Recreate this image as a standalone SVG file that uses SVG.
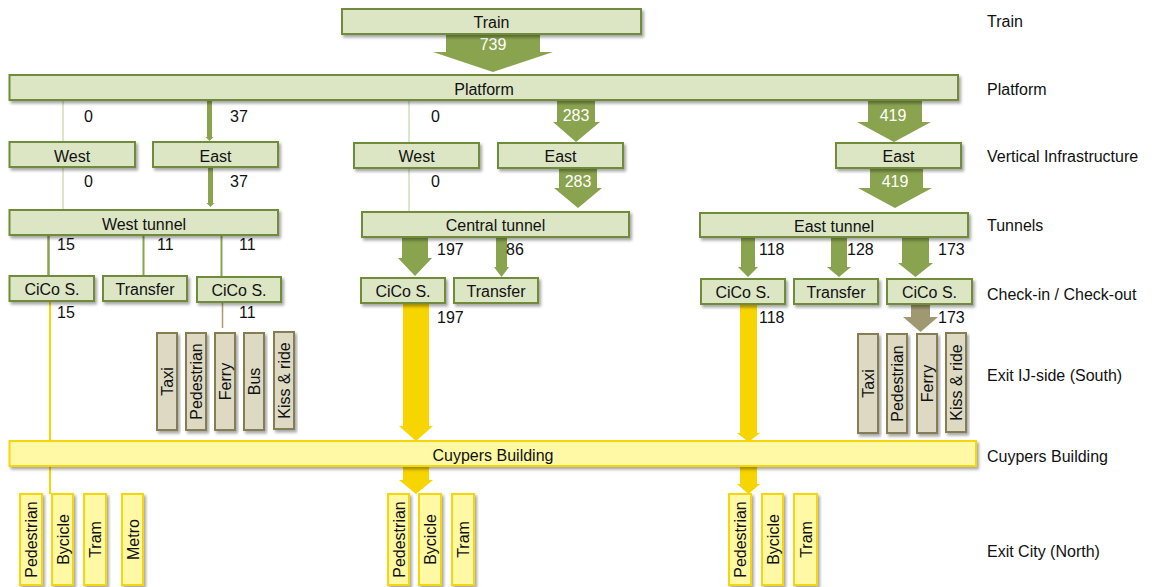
<svg xmlns="http://www.w3.org/2000/svg" width="1157" height="587" viewBox="0 0 1157 587">
<defs>
<filter id="sh" x="-10%" y="-20%" width="130%" height="160%">
<feDropShadow dx="2" dy="2.5" stdDeviation="1.5" flood-color="#000" flood-opacity="0.35"/>
</filter>
<style>
text{font-family:"Liberation Sans",Arial,sans-serif;font-size:16px;fill:#111;}
.g{fill:#DCE6C4;stroke:#6F8C3A;stroke-width:2;filter:url(#sh);}
.y{fill:#FFF9A6;stroke:#F5D60F;stroke-width:2;filter:url(#sh);}
.b{fill:#DDD9C3;stroke:#857D52;stroke-width:2;filter:url(#sh);}
.c{text-anchor:middle;}
.w{fill:#fff;text-anchor:middle;}
.ag{fill:#8AA34F;}
.ay{fill:#F7D500;}
.ab{fill:#A09870;}
.thin{stroke:#B9CC90;stroke-width:1;fill:none;}
.gl{stroke:#8AA34F;stroke-width:2;fill:none;}
.yl{stroke:#F7D500;stroke-width:2;fill:none;}
.bl{stroke:#A59D70;stroke-width:1.5;fill:none;}
</style>
</defs>
<rect width="1157" height="587" fill="#fff"/>

<g id="connectors">
<polygon class="ag" points="446,34 540,34 540,52 553,52 493,72 433,52 446,52"/>
<line class="thin" x1="63" y1="100" x2="63" y2="142"/>
<polygon class="ag" points="207,100 212,100 212,137 213.5,137 209.5,141 205.5,137 207,137"/>
<line class="thin" x1="409" y1="100" x2="409" y2="143"/>
<polygon class="ag" points="557,100 595,100 595,122 600,122 576,142 553,122 557,122"/>
<polygon class="ag" points="868,100 922,100 922,122 931,122 894,142 857,122 868,122"/>
<line class="thin" x1="63" y1="167" x2="63" y2="210"/>
<polygon class="ag" points="208,167 213,167 213,203 214.5,203 210.5,207 206.5,203 208,203"/>
<line class="thin" x1="409" y1="168" x2="409" y2="212"/>
<polygon class="ag" points="559,168 597,168 597,188 602,188 578,208 554,188 559,188"/>
<polygon class="ag" points="870,168 923,168 923,188 932,188 895,208 858,188 870,188"/>
<line class="gl" x1="48.5" y1="235" x2="48.5" y2="276" style="stroke-width:2.5"/>
<line class="gl" x1="143.5" y1="235" x2="143.5" y2="276"/>
<line class="gl" x1="221.5" y1="235" x2="221.5" y2="277"/>
<polygon class="ag" points="402,237 428,237 428,258 432,258 415,276 398,258 402,258"/>
<polygon class="ag" points="496,237 507,237 507,267 509,267 501.5,277 494,267 496,267"/>
<polygon class="ag" points="741,237 755,237 755,267 758,267 748,277 738,267 741,267"/>
<polygon class="ag" points="831,237 847,237 847,267 851,267 839,277 827,267 831,267"/>
<polygon class="ag" points="902,237 929,237 929,263 933,263 915.5,277 898,263 902,263"/>
<line class="yl" x1="50" y1="301" x2="50" y2="441"/>
<line class="bl" x1="222.5" y1="302" x2="222.5" y2="328"/>
<polygon class="ay" points="403,303 429,303 429,426 433,426 416,441 399,426 403,426"/>
<polygon class="ay" points="740,304 757,304 757,433 760,433 748.5,442 737,433 740,433"/>
<polygon class="ab" points="911,304 930,304 930,317 938,317 920.5,332 903,317 911,317"/>
<line class="yl" x1="50" y1="466" x2="50" y2="494"/>
<polygon class="ay" points="403,466 429,466 429,480 433,480 416,494 399,480 403,480"/>
<polygon class="ay" points="740,466 757,466 757,484 760,484 748.5,494 737,484 740,484"/>
</g>

<g id="flow-labels">
<text class="w" x="493" y="50">739</text>
<text x="84" y="122">0</text>
<text x="230" y="122">37</text>
<text x="431" y="122">0</text>
<text class="w" x="576" y="121">283</text>
<text class="w" x="893" y="121">419</text>
<text x="84" y="187">0</text>
<text x="230" y="187">37</text>
<text x="431" y="187">0</text>
<text class="w" x="578" y="187">283</text>
<text class="w" x="895" y="187">419</text>
<text x="57" y="250">15</text>
<text x="157" y="250">11</text>
<text x="239" y="250">11</text>
<text x="437" y="255">197</text>
<text x="506" y="255">86</text>
<text x="759" y="255">118</text>
<text x="847" y="255">128</text>
<text x="938" y="255">173</text>
<text x="57" y="318">15</text>
<text x="239" y="318">11</text>
<text x="437" y="323">197</text>
<text x="759" y="323">118</text>
<text x="938" y="323">173</text>
</g>

<g id="train"><rect class="g" x="342" y="9" width="299" height="25"/><text class="c" x="491.5" y="28">Train</text></g>
<g id="platform"><rect class="g" x="9.5" y="75" width="948.5" height="25"/><text class="c" x="484" y="94.5">Platform</text></g>

<g id="west-left"><rect class="g" x="9.5" y="142" width="125.5" height="25"/><text class="c" x="72" y="161.5">West</text></g>
<g id="east-left"><rect class="g" x="153" y="142" width="125" height="25"/><text class="c" x="215.5" y="161.5">East</text></g>
<g id="west-central"><rect class="g" x="354" y="143" width="125" height="25"/><text class="c" x="416.5" y="162">West</text></g>
<g id="east-central"><rect class="g" x="498" y="143" width="125" height="25"/><text class="c" x="560.5" y="162">East</text></g>
<g id="east-right"><rect class="g" x="836" y="143" width="125" height="25"/><text class="c" x="898.5" y="162">East</text></g>

<g id="west-tunnel"><rect class="g" x="9.5" y="210" width="268.5" height="25"/><text class="c" x="144" y="229.5">West tunnel</text></g>
<g id="central-tunnel"><rect class="g" x="362" y="212" width="267" height="25"/><text class="c" x="495.5" y="231">Central tunnel</text></g>
<g id="east-tunnel"><rect class="g" x="700" y="213" width="268" height="24"/><text class="c" x="834" y="231.5">East tunnel</text></g>

<g id="cico-w1"><rect class="g" x="9.5" y="276" width="84.5" height="25"/><text class="c" x="52" y="295">CiCo S.</text></g>
<g id="transfer-w"><rect class="g" x="103" y="276" width="84" height="25"/><text class="c" x="145" y="295">Transfer</text></g>
<g id="cico-w2"><rect class="g" x="197" y="277" width="84" height="25"/><text class="c" x="239" y="296">CiCo S.</text></g>
<g id="cico-c"><rect class="g" x="361" y="278" width="84" height="25"/><text class="c" x="403" y="297">CiCo S.</text></g>
<g id="transfer-c"><rect class="g" x="454" y="278" width="84" height="25"/><text class="c" x="496" y="297">Transfer</text></g>
<g id="cico-e1"><rect class="g" x="701" y="279" width="84" height="25"/><text class="c" x="743" y="298">CiCo S.</text></g>
<g id="transfer-e"><rect class="g" x="794" y="279" width="84" height="25"/><text class="c" x="836" y="298">Transfer</text></g>
<g id="cico-e2"><rect class="g" x="887" y="279" width="85" height="25"/><text class="c" x="929.5" y="298">CiCo S.</text></g>

<g id="south-w-taxi"><rect class="b" x="157" y="333" width="20" height="97"/><text class="c" transform="translate(173,381.5) rotate(-90)">Taxi</text></g>
<g id="south-w-ped"><rect class="b" x="186" y="333" width="20" height="97"/><text class="c" transform="translate(202,381.5) rotate(-90)">Pedestrian</text></g>
<g id="south-w-ferry"><rect class="b" x="215" y="333" width="20" height="97"/><text class="c" transform="translate(231,381.5) rotate(-90)">Ferry</text></g>
<g id="south-w-bus"><rect class="b" x="244" y="333" width="20" height="97"/><text class="c" transform="translate(260,381.5) rotate(-90)">Bus</text></g>
<g id="south-w-kiss"><rect class="b" x="274" y="332" width="20" height="97"/><text class="c" transform="translate(290,380.5) rotate(-90)">Kiss &amp; ride</text></g>

<g id="south-e-taxi"><rect class="b" x="858" y="334" width="20" height="99"/><text class="c" transform="translate(874,383.5) rotate(-90)">Taxi</text></g>
<g id="south-e-ped"><rect class="b" x="887" y="334" width="20" height="99"/><text class="c" transform="translate(903,383.5) rotate(-90)">Pedestrian</text></g>
<g id="south-e-ferry"><rect class="b" x="917" y="334" width="20" height="99"/><text class="c" transform="translate(933,383.5) rotate(-90)">Ferry</text></g>
<g id="south-e-kiss"><rect class="b" x="946" y="333" width="20" height="99"/><text class="c" transform="translate(962,382.5) rotate(-90)">Kiss &amp; ride</text></g>

<g id="cuypers"><rect class="y" x="9.5" y="441" width="966.5" height="25"/><text class="c" x="493" y="460.5">Cuypers Building</text></g>

<g id="north-w-ped"><rect class="y" x="20" y="494" width="22" height="91"/><text class="c" transform="translate(37,539.5) rotate(-90)">Pedestrian</text></g>
<g id="north-w-bike"><rect class="y" x="52" y="494" width="21" height="91"/><text class="c" transform="translate(68.5,539.5) rotate(-90)">Bycicle</text></g>
<g id="north-w-tram"><rect class="y" x="84" y="494" width="22" height="91"/><text class="c" transform="translate(101,539.5) rotate(-90)">Tram</text></g>
<g id="north-w-metro"><rect class="y" x="122" y="494" width="21" height="91"/><text class="c" transform="translate(138.5,539.5) rotate(-90)">Metro</text></g>
<g id="north-c-ped"><rect class="y" x="388" y="494" width="21" height="91"/><text class="c" transform="translate(404.5,539.5) rotate(-90)">Pedestrian</text></g>
<g id="north-c-bike"><rect class="y" x="419" y="494" width="22" height="91"/><text class="c" transform="translate(436,539.5) rotate(-90)">Bycicle</text></g>
<g id="north-c-tram"><rect class="y" x="452" y="494" width="22" height="91"/><text class="c" transform="translate(469,539.5) rotate(-90)">Tram</text></g>
<g id="north-e-ped"><rect class="y" x="729" y="494" width="22" height="91"/><text class="c" transform="translate(746,539.5) rotate(-90)">Pedestrian</text></g>
<g id="north-e-bike"><rect class="y" x="762" y="494" width="21" height="91"/><text class="c" transform="translate(778.5,539.5) rotate(-90)">Bycicle</text></g>
<g id="north-e-tram"><rect class="y" x="794" y="494" width="23" height="91"/><text class="c" transform="translate(811.5,539.5) rotate(-90)">Tram</text></g>

<g id="level-labels">
<text x="987" y="27">Train</text>
<text x="987" y="95">Platform</text>
<text x="987" y="162">Vertical Infrastructure</text>
<text x="987" y="231">Tunnels</text>
<text x="987" y="300">Check-in / Check-out</text>
<text x="987" y="381">Exit IJ-side (South)</text>
<text x="987" y="462">Cuypers Building</text>
<text x="987" y="557">Exit City (North)</text>
</g>
</svg>
